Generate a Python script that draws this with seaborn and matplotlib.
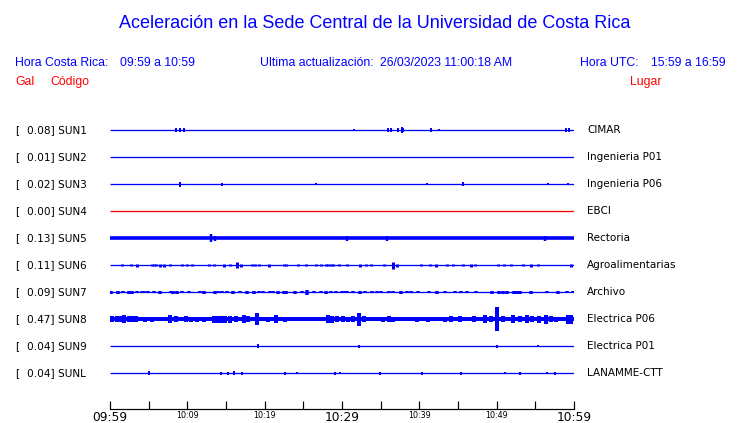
import numpy as np
import pandas as pd
import seaborn as sns
import matplotlib.pyplot as plt

# estaciones, lugar y pico en Gal
stations = ["SUN1", "SUN2", "SUN3", "SUN4", "SUN5", "SUN6", "SUN7", "SUN8", "SUN9", "SUNL"]
places = ["CIMAR", "Ingenieria P01", "Ingenieria P06", "EBCI", "Rectoria",
          "Agroalimentarias", "Archivo", "Electrica P06", "Electrica P01", "LANAMME-CTT"]
peak_gal = [0.08, 0.01, 0.02, 0.00, 0.13, 0.11, 0.09, 0.47, 0.04, 0.04]
trace_colors = ["blue", "blue", "blue", "red", "blue", "blue", "blue", "blue", "blue", "blue"]

# eje de tiempo (minutos despues de 09:59)
tick_minutes = list(range(0, 61, 5))
tick_labels = ["09:59", "", "10:09", "", "10:19", "", "10:29", "", "10:39", "", "10:49", "", "10:59"]
big_labels = ["09:59", "10:29", "10:59"]

# ancho de la banda de ruido (px) y ancho de los picos (px)
band_px = [0, 0, 0, 0, 1.8, 0, 0, 2.0, 0, 0]
spike_w_px = [2, 2, 2, 2, 2.5, 3, 3.5, 4, 2, 2]

sun1_t = [8.5, 9.1, 9.6, 31.5, 36.0, 36.3, 37.3, 37.8, 37.9, 41.5, 42.6, 59.0, 59.3]
sun1_a = [2, 2, 2, 1, 2, 2, 2, 3, 2, 2, 1, 2, 2]
sun2_t = []
sun2_a = []
sun3_t = [9.0, 14.45, 26.6, 41.05, 45.6, 56.6, 59.2]
sun3_a = [2.5, 1.5, 1, 1, 2, 1, 1]
sun4_t = []
sun4_a = []
sun5_t = [13.06, 13.6, 30.6, 35.8, 56.2]
sun5_a = [4, 2.5, 2.5, 2.5, 2.5]
sun6_t = [1.5, 2.7, 3.5, 5.4, 5.7, 5.9, 6.5, 7.0, 7.8, 9.3, 10.0, 10.6, 12.8, 13.5, 14.7,
          15.5, 16.4, 17.0, 18.3, 18.8, 19.3, 20.5, 22.5, 22.8, 24.3, 25.3, 26.6, 27.3,
          27.9, 28.2, 28.6, 28.9, 29.6, 30.6, 32.3, 33.1, 33.8, 35.4, 36.6, 37.1, 40.2,
          41.4, 42.1, 43.6, 44.4, 45.6, 46.7, 47.2, 50.2, 51.0, 51.8, 53.4, 54.5, 55.4, 59.6]
sun6_a = [1, 1, 1.5, 1, 1, 1, 1.5, 1.5, 1, 1, 1, 1, 1, 1, 1.5,
          1, 3, 1.5, 1, 1, 1, 1.5, 1, 1, 1, 1, 1, 1,
          1, 1, 1, 1, 1, 1, 1.5, 1, 1, 1, 3.5, 1.5, 1,
          1, 1.5, 1, 1, 1, 1.5, 1, 1, 1, 1, 1, 1.5, 1, 1.5]
sun7_t = [0.13, 1.08, 1.64, 2.4, 2.8, 3.45, 4.1, 4.44, 4.87, 5.73, 6.42, 7.85, 8.2, 8.6,
          9.27, 10.26, 11.6, 12.16, 13.58, 14.01, 14.44, 15.17, 15.86, 16.81, 17.68,
          18.62, 19.27, 19.79, 20.69, 21.12, 21.77, 22.5, 22.8, 23.93, 24.8, 25.52, 26.39,
          27.29, 27.98, 28.59, 29.2, 29.96, 30.39, 30.69, 31.47, 32.33, 32.97, 33.84,
          34.49, 35.0, 36.12, 36.64, 37.59, 38.36, 38.92, 39.83, 41.29, 42.24, 43.32,
          44.61, 45.35, 46.12, 47.33, 49.36, 50.3, 50.86, 51.4, 52.2, 52.59, 53.0, 54.4,
          56.55, 57.97, 59.05, 59.83]
sun7_a = [1.5, 1.5, 1, 1.5, 1.5, 1, 1, 1, 1, 1, 1.5, 1, 1.5, 1.5,
          1, 1, 1, 1.5, 1.5, 1, 1, 1, 1.5, 1, 1.5,
          1.5, 1, 1, 1, 1, 1.5, 1.5, 1.5, 1.5, 1, 2.5, 1,
          1, 1.5, 1, 1, 1, 1, 1, 1, 1.5, 1, 1,
          1, 1, 1, 1, 1.5, 1, 1, 1, 1, 1.5, 1,
          1, 1, 1, 1, 1.5, 1.5, 1.5, 1.5, 1.5, 1.5, 1.5, 1.5,
          1, 1.5, 1, 1]
sun8_t = [0.22, 0.86, 1.38, 1.85, 2.4, 2.8, 3.36, 4.53, 5.47, 6.68, 7.72, 8.49, 9.79,
          10.47, 11.21, 12.16, 13.5, 13.9, 14.35, 14.87, 15.52, 16.25, 17.29, 17.89,
          19.05, 20.47, 21.42, 22.63, 24.14, 25.0, 25.86, 26.94, 28.16, 28.67, 29.32,
          30.17, 30.82, 31.47, 32.24, 32.84, 34.57, 35.34, 36.04, 36.64, 39.66, 41.16,
          42.67, 43.32, 44.1, 45.26, 46.03, 47.07, 48.49, 49.23, 50.0, 50.86, 52.16,
          53.02, 53.88, 54.53, 55.52, 56.34, 56.99, 57.67, 59.2, 59.6]
sun8_a = [3, 3, 3, 4, 3, 3, 3, 2.5, 2.5, 2, 4, 3, 3,
          2.5, 2.5, 2.5, 3.5, 3.5, 3.5, 3.5, 3.5, 3, 4, 3,
          6, 2.5, 4, 2.5, 2, 2, 2, 2, 4, 3.5, 3,
          3, 2.5, 3, 6.5, 3, 2, 2.5, 3, 2.5, 2.5, 2.5,
          2, 2.5, 3, 3, 2, 3, 4, 3, 12, 3, 4,
          3, 4, 3, 3.5, 4.5, 3, 2.5, 4.5, 4.5]
sun9_t = [19.2, 32.2, 50.0, 55.4]
sun9_a = [2, 1.5, 1.5, 1]
sunl_t = [5.0, 14.4, 15.3, 16.0, 17.1, 22.6, 24.2, 29.1, 29.7, 34.9, 40.3, 45.4, 51.1, 53.0, 56.5, 57.6]
sunl_a = [2, 1.5, 1.5, 2, 1.5, 1.5, 1, 1.5, 1, 1.5, 1.5, 1.5, 1, 1.5, 1, 1.5]

spike_t = [sun1_t, sun2_t, sun3_t, sun4_t, sun5_t, sun6_t, sun7_t, sun8_t, sun9_t, sunl_t]
spike_a = [sun1_a, sun2_a, sun3_a, sun4_a, sun5_a, sun6_a, sun7_a, sun8_a, sun9_a, sunl_a]

W, H = 740, 423
ROW = 27.0   # px entre trazas
PT = 0.72    # pt por px a 100 dpi

sns.set_style("white")
plt.rcParams["font.family"] = ["DejaVu Sans"]

fig = plt.figure(figsize=(W / 100, H / 100), dpi=100)
ax = fig.add_axes([110 / W, (H - 409) / H, 464 / W, (409 - 115) / H])


def ftext(x, y, s, **kw):
    fig.text(x / W, 1 - y / H, s, **kw)


for i, st in enumerate(stations):
    col = trace_colors[i]
    lw = max(1.3, 2 * band_px[i]) * PT
    base = pd.DataFrame({"t": [0, 60], "y": [i, i]})
    sns.lineplot(data=base, x="t", y="y", color=col, linewidth=lw, ax=ax,
                 solid_capstyle="butt")
    if spike_t[i]:
        a = np.array(spike_a[i]) / ROW
        ax.vlines(spike_t[i], i - a, i + a, color=col, linewidth=spike_w_px[i] * PT)

    ypx = 130 + ROW * i
    ftext(15, ypx, "[", fontsize=7.6, va="center", color="black")
    ftext(27, ypx, f"{peak_gal[i]:.2f}] {st}", fontsize=7.6, va="center", color="black")
    ftext(587, ypx, places[i], fontsize=7.5, va="center", color="black")

ax.set_xlim(0, 60)
ax.set_ylim(10.333, -0.556)
ax.set_yticks([])
ax.set_xlabel("")
ax.set_ylabel("")
for s in ["top", "left", "right"]:
    ax.spines[s].set_visible(False)
ax.spines["bottom"].set_visible(True)
ax.spines["bottom"].set_color("black")
ax.spines["bottom"].set_linewidth(1.2 * PT)
ax.spines["bottom"].set_zorder(5)
ax.set_xticks(tick_minutes, tick_labels)
ax.tick_params(axis="x", bottom=True, direction="in", length=8 * PT, width=1.2 * PT,
               pad=1.5, colors="black")
for lab in ax.get_xticklabels():
    lab.set_fontsize(8.8 if lab.get_text() in big_labels else 5.8)
ax.patch.set_alpha(0)

hf = "Liberation Sans"
ftext(375, 28, "Aceleración en la Sede Central de la Universidad de Costa Rica",
      ha="center", va="baseline", color="blue", fontsize=13, family=hf)
ftext(15, 66, "Hora Costa Rica:", va="baseline", color="blue", fontsize=8.8, family=hf)
ftext(120.5, 66, "09:59 a 10:59", va="baseline", color="blue", fontsize=8.8, family=hf)
ftext(260.5, 66, "Ultima actualización:", va="baseline", color="blue", fontsize=8.8, family=hf)
ftext(380, 66, "26/03/2023 11:00:18 AM", va="baseline", color="blue", fontsize=8.8, family=hf)
ftext(580.5, 66, "Hora UTC:", va="baseline", color="blue", fontsize=8.8, family=hf)
ftext(651, 66, "15:59 a 16:59", va="baseline", color="blue", fontsize=8.8, family=hf)
ftext(15, 85, "Gal", va="baseline", color="red", fontsize=8.8, family=hf)
ftext(50, 85, "Código", va="baseline", color="red", fontsize=8.8, family=hf)
ftext(630, 85, "Lugar", va="baseline", color="red", fontsize=8.8, family=hf)

fig.savefig("out.png", dpi=100, facecolor="white")
